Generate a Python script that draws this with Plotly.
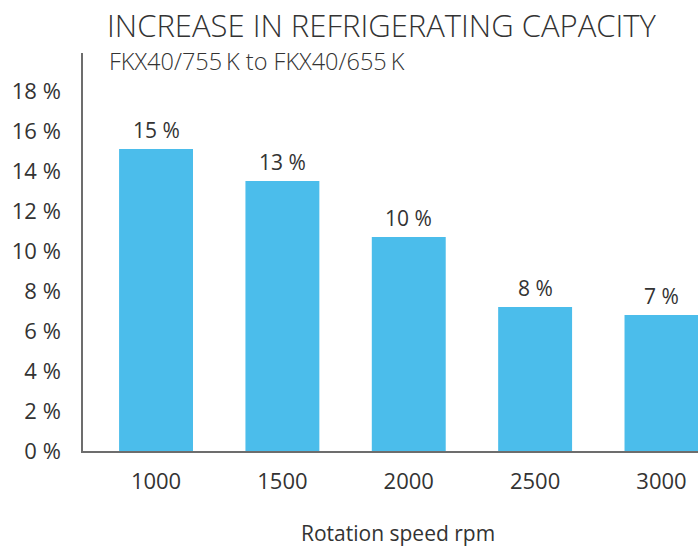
import plotly.graph_objects as go

speeds = ["1000", "1500", "2000", "2500", "3000"]
increase = [15.1, 13.5, 10.7, 7.2, 6.8]
labels = ["15 %", "13 %", "10 %", "8 %", "7 %"]
y_ticks = [0, 2, 4, 6, 8, 10, 12, 14, 16, 18]
y_tick_text = [f"{v} %" for v in y_ticks]

FONT = "Open Sans"
TXT = "#333333"
BAR = "#4BBDEB"

W, H = 698, 547
L, T, B = 83, 53, 547 - 451
PW = W - L

fig = go.Figure()
fig.add_trace(go.Bar(
    x=speeds, y=increase, width=0.585,
    marker=dict(color=BAR, line=dict(width=0)),
    hoverinfo="skip",
))

for i, (v, t) in enumerate(zip(increase, labels)):
    fig.add_annotation(x=i, y=v, text=t, showarrow=False, yanchor="bottom",
                       yshift=3, font=dict(family=FONT, size=21, color=TXT))

fig.update_layout(
    width=W, height=H,
    margin=dict(l=L, r=0, t=T, b=B),
    paper_bgcolor="white", plot_bgcolor="white",
    showlegend=False,
    font=dict(family=FONT, color=TXT, size=20),
    title=dict(text="INCREASE IN REFRIGERATING CAPACITY", x=107 / W, xanchor="left",
               y=1 - 26 / H, yanchor="middle",
               font=dict(family=FONT, size=31, color=TXT, weight=300)),
    xaxis=dict(type="category", range=[-0.578, 4.289], showgrid=False,
               showline=True, linecolor="#6d6d6d", linewidth=1.5,
               ticks="", ticklabelstandoff=10,
               tickfont=dict(family=FONT, size=22, color=TXT)),
    yaxis=dict(range=[0, 19.9], showgrid=False, zeroline=False,
               showline=True, linecolor="#6d6d6d", linewidth=1.5,
               tickvals=y_ticks, ticktext=y_tick_text, ticks="",
               ticklabelstandoff=16,
               tickfont=dict(family=FONT, size=22, color=TXT)),
)
fig.add_annotation(text="FKX40/755\u2009K to FKX40/655\u2009K", xref="paper", yref="paper",
                   x=0, xshift=107 - L, y=1, yshift=-(61 - T), xanchor="left", yanchor="middle",
                   showarrow=False, font=dict(family=FONT, size=23.5, color=TXT, weight=300))
fig.add_annotation(text="Rotation speed rpm", xref="paper", yref="paper",
                   x=(397.5 - L) / PW, y=0, yshift=-(533 - 451), xanchor="center", yanchor="middle",
                   showarrow=False, font=dict(family=FONT, size=21, color=TXT))

fig.write_html("out.html", config={"displayModeBar": False},
               post_script="document.body.style.margin='0';document.body.style.overflow='hidden';")
